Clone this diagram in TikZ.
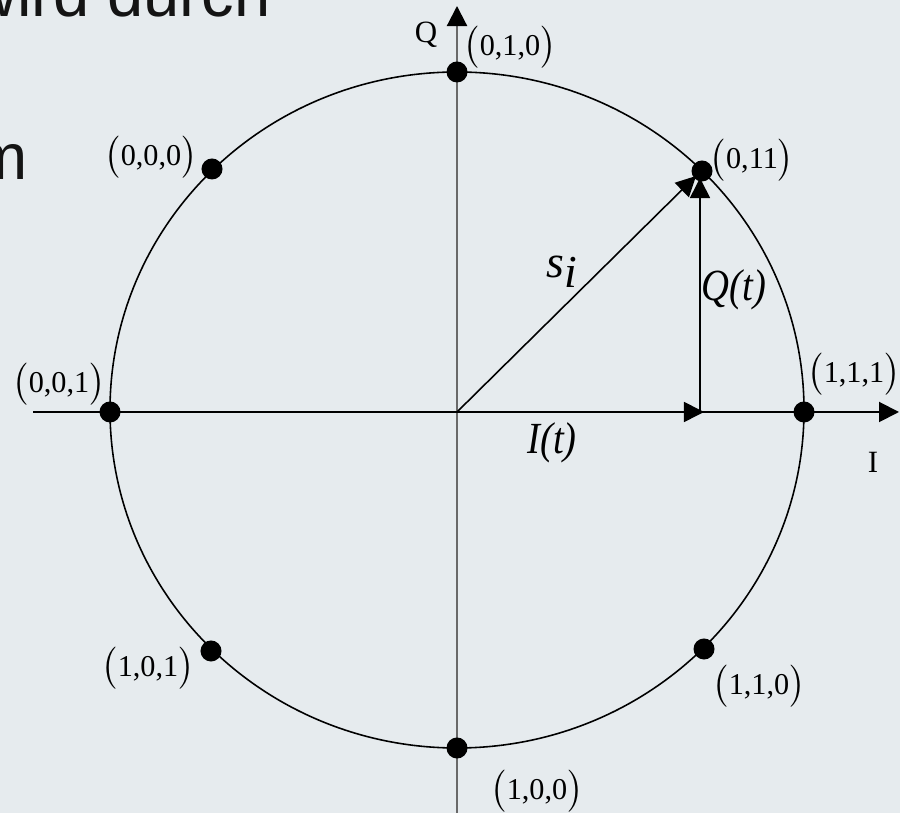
\documentclass[tikz,border=0pt]{standalone}
\usepackage{fontspec}
\setmainfont{Liberation Serif}
\newfontfamily\slidefont{Liberation Sans}
\usetikzlibrary{arrows.meta}
\definecolor{bg}{RGB}{230,235,238}
\definecolor{axisgray}{RGB}{105,105,105}
\definecolor{slidetext}{RGB}{20,20,20}
\newcommand{\cpt}[1]{\(\bigl(\)#1\(\bigr)\)}
\begin{document}
\begin{tikzpicture}[x=0.01cm,y=-0.01cm,
  dot/.style={circle,fill=black,inner sep=0pt,minimum size=0.21cm},
  coordlbl/.style={font=\fontsize{8.6}{10}\selectfont,inner sep=0pt},
  siglbl/.style={font=\fontsize{11}{13}\selectfont\itshape,inner sep=0pt},
  axislbl/.style={font=\fontsize{8.8}{10}\selectfont,inner sep=0pt},
  slidetxt/.style={font=\slidefont\fontsize{18.5}{22}\selectfont,text=slidetext,inner sep=0pt},
  tipped/.style={-{Triangle[length=0.2cm,width=0.2cm,color=black]}},
  thinline/.style={line width=0.45pt},
]
\useasboundingbox[fill=bg] (0,0) rectangle (900,813);
\begin{scope}
\clip (0,0) rectangle (900,813);
% slide text fragments
\node[slidetxt,anchor=base east] (txtA) at (271,17) {wird durch};
\node[slidetxt,anchor=base east] (txtB) at (28,180) {m};

% circle
\draw[thinline] (457,410) ellipse [x radius=347, y radius=338];

% coordinates
\coordinate (o) at (457,412);
\coordinate (vbot) at (457,813);
\coordinate (vtop) at (457,6);
\coordinate (hleft) at (33,412);
\coordinate (hright) at (899,412);
\coordinate (itip) at (704,412);
\coordinate (qbase) at (700,412);
\coordinate (qtip) at (700,178);
\coordinate (stip) at (696,176);

% axes
\draw[tipped,line width=0.6pt,axisgray] (vbot) -- (vtop);
\draw[tipped,line width=0.55pt] (hleft) -- (hright);

% vectors
\draw[tipped,thinline] (o) -- (itip);
\draw[tipped,thinline] (qbase) -- (qtip);
\draw[tipped,thinline] (o) -- (stip);

% constellation points
\node[dot] (d010) at (457,72) {};
\node[dot] (d000) at (212,169) {};
\node[dot] (d011) at (702,171) {};
\node[dot] (d001) at (110,412) {};
\node[dot] (d111) at (804,412) {};
\node[dot] (d101) at (211,651) {};
\node[dot] (d110) at (704,649) {};
\node[dot] (d100) at (457,748) {};

% labels
\node[coordlbl] (l010) at (510,47) {\cpt{0,1,0}};
\node[coordlbl] (l000) at (151,157) {\cpt{0,0,0}};
\node[coordlbl] (l011) at (752,160) {\cpt{0,11}};
\node[coordlbl] (l001) at (59,384) {\cpt{0,0,1}};
\node[coordlbl] (l111) at (854,374) {\cpt{1,1,1}};
\node[coordlbl] (l101) at (148,668) {\cpt{1,0,1}};
\node[coordlbl] (l110) at (759,686) {\cpt{1,1,0}};
\node[coordlbl] (l100) at (537,791) {\cpt{1,0,0}};

\node[axislbl] (lQ) at (426,35) {Q};
\node[axislbl] (lI) at (873,462) {I};

\node[siglbl,font=\fontsize{13}{15}\selectfont\itshape] (ls) at (562,272) {s\raisebox{-0.22em}{i}};
\node[siglbl] (lq) at (734,290) {\scalebox{1}[1.15]{Q(t)}};
\node[siglbl] (li) at (552,443) {\scalebox{1}[1.15]{I(t)}};
\end{scope}
\end{tikzpicture}
\end{document}
